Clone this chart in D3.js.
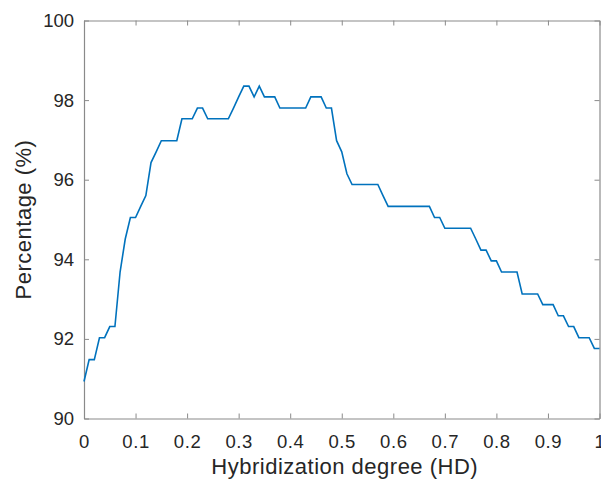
<!DOCTYPE html>
<html>
<head>
  <meta charset="utf-8" />
  <title>Percentage vs hybridization degree</title>
  <style type="text/css">
    body {
      margin: 0;
      background: #fff;
      font-family: 'Liberation Sans', Arial, sans-serif;
    }
    .axis path, .axis line {
      stroke: #8a8a8a;
    }
    .axis text {
      fill: #262626;
      font-size: 18.5px;
    }
    .xaxis text {
      letter-spacing: 0.6px;
    }
    .title {
      fill: #262626;
      font-size: 22px;
      letter-spacing: 0.5px;
    }
  </style>
</head>
<body>
  <div id="chart"></div>

  <script src="https://cdn.jsdelivr.net/npm/d3@7"></script>
  <script>
  // hybridization degree, step 0.01 from 0 to 1
  var hd = d3.range(0, 101).map(function (i) { return i / 100; });

  // percentage, one value per hd step
  var percentage = [
    90.93, 91.48, 91.48, 92.03, 92.03, 92.31, 92.31, 93.68, 94.51, 95.05,
    95.05, 95.33, 95.60, 96.43, 96.70, 96.98, 96.98, 96.98, 96.98, 97.53,
    97.53, 97.53, 97.80, 97.80, 97.53, 97.53, 97.53, 97.53, 97.53, 97.80,
    98.08, 98.35, 98.35, 98.08, 98.35, 98.08, 98.08, 98.08, 97.80, 97.80,
    97.80, 97.80, 97.80, 97.80, 98.08, 98.08, 98.08, 97.80, 97.80, 96.98,
    96.70, 96.15, 95.88, 95.88, 95.88, 95.88, 95.88, 95.88, 95.60, 95.33,
    95.33, 95.33, 95.33, 95.33, 95.33, 95.33, 95.33, 95.33, 95.05, 95.05,
    94.78, 94.78, 94.78, 94.78, 94.78, 94.78, 94.51, 94.23, 94.23, 93.96,
    93.96, 93.68, 93.68, 93.68, 93.68, 93.13, 93.13, 93.13, 93.13, 92.86,
    92.86, 92.86, 92.58, 92.58, 92.31, 92.31, 92.03, 92.03, 92.03, 91.76,
    91.76
  ];

  var xTicks = [0, 0.1, 0.2, 0.3, 0.4, 0.5, 0.6, 0.7, 0.8, 0.9, 1];
  var yTicks = [90, 92, 94, 96, 98, 100];

  var width = 601, height = 479;
  var margin = {top: 20.5, right: 1.5, bottom: 60.5, left: 84};
  var w = width - margin.left - margin.right;
  var h = height - margin.top - margin.bottom;

  var svg = d3.select('#chart').append('svg')
    .attr('width', width)
    .attr('height', height);

  var g = svg.append('g')
    .attr('transform', 'translate(' + margin.left + ',' + margin.top + ')');

  var x = d3.scaleLinear().domain([0, 1]).range([0, w]);
  var y = d3.scaleLinear().domain([90, 100]).range([h, 0]);

  function fmt(d) { return d === 0 || d === 1 ? String(d) : d3.format('.1f')(d); }

  // bottom and left axes with labels, ticks pointing inward
  g.append('g').attr('class', 'axis xaxis')
    .attr('transform', 'translate(0,' + h + ')')
    .call(d3.axisBottom(x).tickValues(xTicks).tickFormat(fmt).tickSizeInner(-5).tickSizeOuter(0).tickPadding(16));

  g.append('g').attr('class', 'axis')
    .call(d3.axisLeft(y).tickValues(yTicks).tickSizeInner(-5).tickSizeOuter(0).tickPadding(10));

  // top and right box edges with ticks, no labels
  g.append('g').attr('class', 'axis')
    .call(d3.axisTop(x).tickValues(xTicks).tickFormat('').tickSizeInner(-5).tickSizeOuter(0));

  g.append('g').attr('class', 'axis')
    .attr('transform', 'translate(' + w + ',0)')
    .call(d3.axisRight(y).tickValues(yTicks).tickFormat('').tickSizeInner(-5).tickSizeOuter(0));

  g.selectAll('.axis .domain').attr('stroke-width', 1.2);

  var line = d3.line()
    .x(function (d, i) { return x(hd[i]); })
    .y(function (d) { return y(d); });

  g.append('path')
    .datum(percentage)
    .attr('fill', 'none')
    .attr('stroke', '#0072BD')
    .attr('stroke-width', 1.6)
    .attr('d', line);

  // axis titles
  svg.append('text')
    .attr('class', 'title')
    .attr('x', margin.left + w / 2 + 3)
    .attr('y', 474)
    .attr('text-anchor', 'middle')
    .text('Hybridization degree (HD)');

  svg.append('text')
    .attr('class', 'title')
    .attr('transform', 'translate(31,' + (margin.top + h / 2) + ') rotate(-90)')
    .attr('text-anchor', 'middle')
    .text('Percentage (%)');
  </script>
</body>
</html>
